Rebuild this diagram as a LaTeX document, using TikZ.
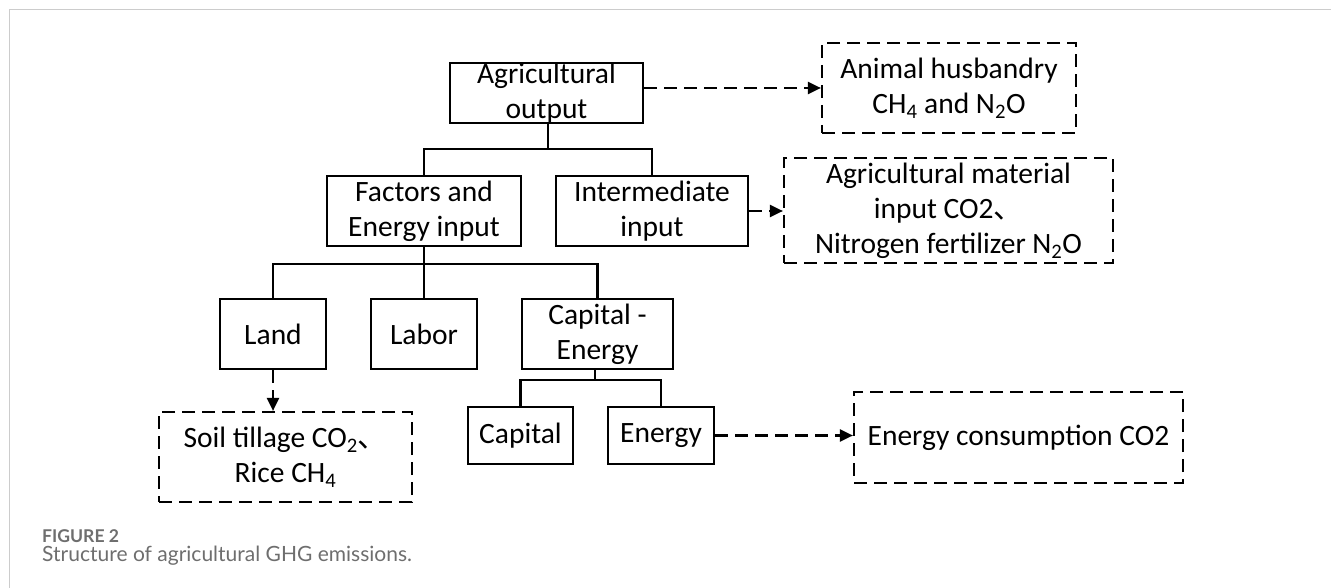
\documentclass[tikz,border=0pt]{standalone}
\usepackage{fontspec}
\setmainfont{Carlito}
\newfontfamily\cjk{Noto Sans CJK SC}
\newfontfamily\capfont{Lato}
\usetikzlibrary{arrows.meta}
\definecolor{framegray}{HTML}{CCCCCC}
\definecolor{capgray}{HTML}{6E6E6E}
\newcommand{\dunhao}{{\cjk 、}}
\begin{document}
\begin{tikzpicture}[x=1pt,y=-1pt,
  solidbox/.style={draw, line width=2.2pt, inner sep=0pt, align=center,
    font=\fontsize{29.5}{35}\selectfont},
  dashbox/.style={solidbox, dash pattern=on 13pt off 7pt},
  link/.style={line width=2.2pt},
  dasharrow/.style={line width=2.2pt, dash pattern=on 13pt off 7pt,
    -{Triangle[length=13pt,width=12pt]}},
  capt/.style={anchor=base west, inner sep=0pt, text=capgray}]
\useasboundingbox (0,0) rectangle (1331,588);
% frame
\draw[framegray, line width=1.6pt] (9.5,588) -- (9.5,9.5) -- (1331,9.5);
% boxes
\node[solidbox, minimum width=193pt, minimum height=60pt] (out) at (546.5,93) {Agricultural\\output};
\node[solidbox, minimum width=194pt, minimum height=70pt] (fac) at (424,211) {Factors and\\Energy input};
\node[solidbox, minimum width=192pt, minimum height=70pt] (inter) at (652,211) {Intermediate\\input};
\node[dashbox, minimum width=254pt, minimum height=90pt] (ani) at (949,88) {Animal husbandry\\CH\textsubscript{4} and N\textsubscript{2}O};
\node[dashbox, minimum width=329pt, minimum height=105pt] (mat) at (948.5,210.5) {Agricultural material\\input CO2\dunhao\\Nitrogen fertilizer N\textsubscript{2}O};
\node[solidbox, minimum width=106pt, minimum height=70pt] (land) at (273,334) {Land};
\node[solidbox, minimum width=106pt, minimum height=70pt] (lab) at (424,334) {Labor};
\node[solidbox, minimum width=151pt, minimum height=70pt] (cape) at (597.5,334) {Capital -\\Energy};
\node[solidbox, minimum width=105pt, minimum height=57pt] (cap) at (520.5,435.5) {Capital};
\node[solidbox, minimum width=106pt, minimum height=57pt] (ene) at (661,435.5) {Energy};
\node[dashbox, minimum width=253pt, minimum height=90pt] (soil) at (285.5,457) {Soil tillage CO\textsubscript{2}\dunhao\\Rice CH\textsubscript{4}};
\node[dashbox, minimum width=329pt, minimum height=91pt] (econ) at (1018.5,437.5) {Energy consumption CO2};
% tree connectors
\draw[link] ([xshift=1.5pt]out.south) -- ++(0,25) coordinate (j1);
\draw[link] (fac.north) |- (j1) -| (inter.north);
\draw[link] (fac.south) -- ++(0,17) coordinate (j2);
\draw[link] (land.north) |- (j2) -| (cape.north);
\draw[link] (lab.north) -- (j2);
\draw[link] ([xshift=-2.5pt]cape.south) -- ++(0,10) coordinate (j3);
\draw[link] (cap.north) |- (j3) -| (ene.north);
% dashed arrows
\draw[dasharrow] (out.east |- ani.west) -- (ani.west);
\draw[dasharrow] (inter.east) -- (inter.east -| mat.west);
\draw[dasharrow] (ene.east) -- (ene.east -| econ.west);
\draw[dasharrow] (land.south) -- (land.south |- soil.north);
% caption
\node[capt, font={\capfont\bfseries\fontsize{17.6}{20}\selectfont}] (fig) at (42,542) {FIGURE 2};
\node[capt, font={\capfont\fontsize{21}{24}\selectfont}] (title) at (42,561) {Structure of agricultural GHG emissions.};
\end{tikzpicture}
\end{document}
